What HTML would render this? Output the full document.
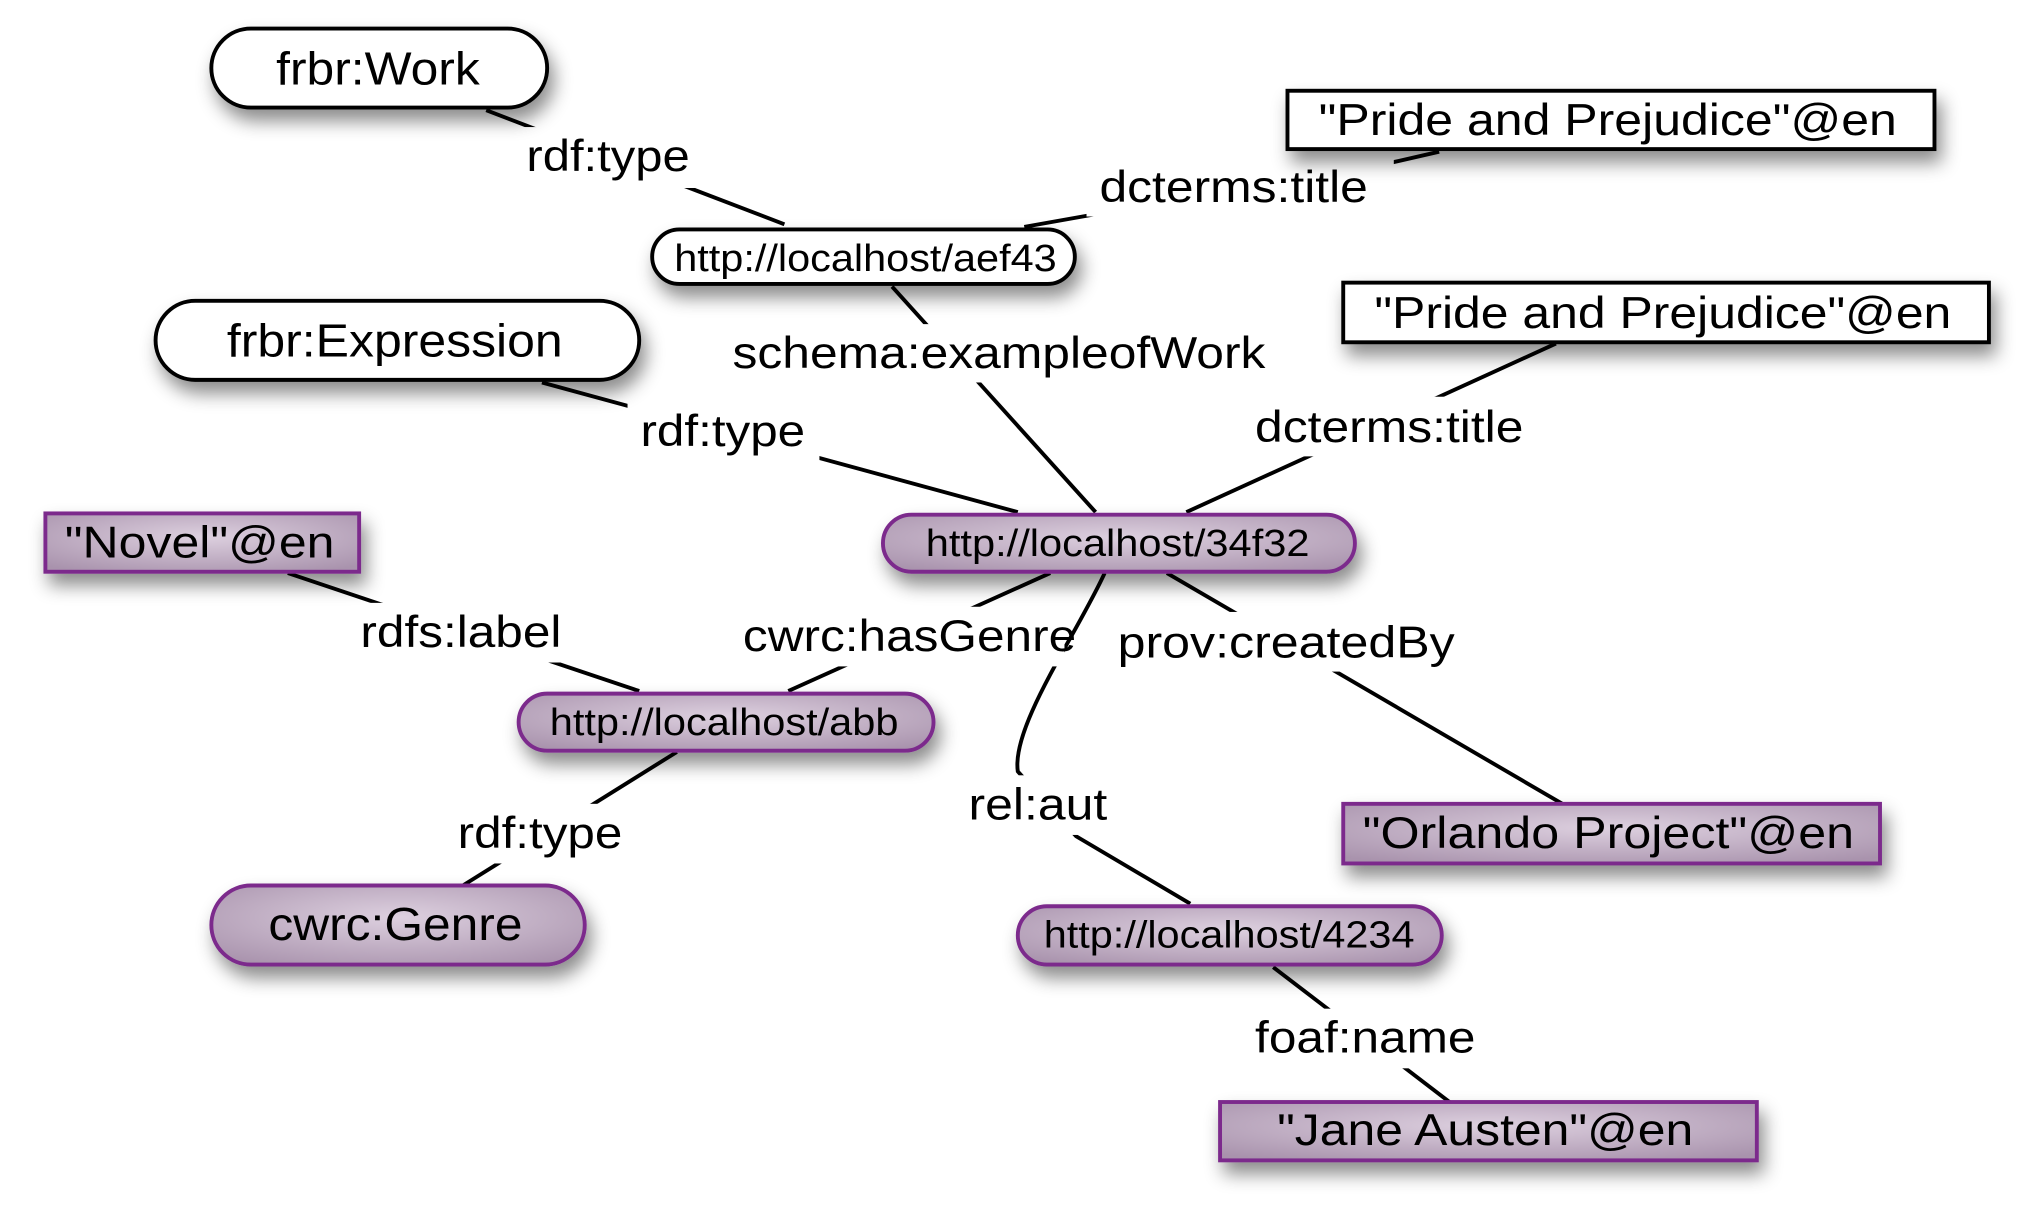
<!DOCTYPE html>
<html><head><meta charset="utf-8"><style>html,body{margin:0;padding:0;background:#fff}svg{display:block}</style></head>
<body>
<svg width="2033" height="1220" viewBox="0 0 1568 941" preserveAspectRatio="none" xmlns="http://www.w3.org/2000/svg" font-family="Liberation Sans, sans-serif">
<defs>
<filter id="sh" x="-20%" y="-40%" width="140%" height="200%"><feDropShadow dx="4" dy="9" stdDeviation="7" flood-color="#000" flood-opacity="0.45"/></filter>
<radialGradient id="pg" cx="50%" cy="40%" r="70%"><stop offset="0" stop-color="#ddd0df"/><stop offset="1" stop-color="#a993ad"/></radialGradient>
</defs>
<g stroke="#000" stroke-width="3" fill="none">
<line x1="375" y1="85" x2="605" y2="173"/>
<polyline points="790,175 835,167 1075,125 1110,117"/>
<line x1="688" y1="221" x2="845" y2="395"/>
<line x1="418" y1="295" x2="785" y2="395"/>
<line x1="1200" y1="265" x2="915" y2="395"/>
<line x1="222" y1="442" x2="493" y2="533"/>
<line x1="810" y1="442" x2="608" y2="533"/>
<line x1="900" y1="442" x2="1205" y2="620"/>
<path d="M852,442 C830,490 780,560 785,595 L830,645 L918,697"/>
<line x1="522" y1="580" x2="357" y2="683"/>
<line x1="982" y1="746" x2="1118" y2="850"/>
</g>
<g fill="#fff">
<rect x="390" y="98" width="150" height="47"/>
<rect x="838" y="122" width="237" height="45"/>
<rect x="555" y="250" width="432" height="45"/>
<rect x="484" y="310" width="148" height="46"/>
<rect x="958" y="306" width="228" height="46"/>
<rect x="268" y="465" width="175" height="46"/>
<rect x="563" y="468" width="258" height="46"/>
<rect x="852" y="472" width="280" height="46"/>
<rect x="737" y="598" width="127" height="46"/>
<rect x="343" y="620" width="147" height="46"/>
<rect x="958" y="778" width="190" height="46"/>
</g>
<g filter="url(#sh)" stroke-width="3">
<rect x="163" y="22" width="259" height="61" rx="30.5" fill="#fff" stroke="#000"/>
<rect x="503" y="177" width="326" height="42" rx="21" fill="#fff" stroke="#000"/>
<rect x="120" y="232" width="373" height="61" rx="30.5" fill="#fff" stroke="#000"/>
<rect x="993" y="70" width="499" height="45" fill="#fff" stroke="#000"/>
<rect x="1036" y="218" width="498" height="46" fill="#fff" stroke="#000"/>
<rect x="681" y="397" width="364" height="44" rx="22" fill="url(#pg)" stroke="#7b2a8c"/>
<rect x="35" y="396" width="242" height="45" fill="url(#pg)" stroke="#7b2a8c"/>
<rect x="400" y="535" width="320" height="44" rx="22" fill="url(#pg)" stroke="#7b2a8c"/>
<rect x="1036" y="620" width="414" height="46" fill="url(#pg)" stroke="#7b2a8c"/>
<rect x="163" y="683" width="288" height="61" rx="30.5" fill="url(#pg)" stroke="#7b2a8c"/>
<rect x="785" y="699" width="327" height="45" rx="22.5" fill="url(#pg)" stroke="#7b2a8c"/>
<rect x="941" y="850" width="414" height="45" fill="url(#pg)" stroke="#7b2a8c"/>
</g>
<g fill="#000" font-size="36" lengthAdjust="spacingAndGlyphs">
<text x="213" y="65" textLength="157" lengthAdjust="spacingAndGlyphs">frbr:Work</text>
<text x="175" y="275" textLength="259" lengthAdjust="spacingAndGlyphs">frbr:Expression</text>
<text x="207" y="725" textLength="196" lengthAdjust="spacingAndGlyphs">cwrc:Genre</text>
</g>
<g fill="#000" font-size="29">
<text x="520" y="209" textLength="295" lengthAdjust="spacingAndGlyphs">http://localhost/aef43</text>
<text x="714" y="429" textLength="296" lengthAdjust="spacingAndGlyphs">http://localhost/34f32</text>
<text x="424" y="567" textLength="269" lengthAdjust="spacingAndGlyphs">http://localhost/abb</text>
<text x="805" y="731" textLength="286" lengthAdjust="spacingAndGlyphs">http://localhost/4234</text>
</g>
<g fill="#000" font-size="34">
<text x="1017" y="104" textLength="446" lengthAdjust="spacingAndGlyphs">"Pride and Prejudice"@en</text>
<text x="1060" y="253" textLength="445" lengthAdjust="spacingAndGlyphs">"Pride and Prejudice"@en</text>
<text x="50" y="430" textLength="208" lengthAdjust="spacingAndGlyphs">"Novel"@en</text>
<text x="1051" y="654" textLength="379" lengthAdjust="spacingAndGlyphs">"Orlando Project"@en</text>
<text x="985" y="883" textLength="321" lengthAdjust="spacingAndGlyphs">"Jane Austen"@en</text>
<text x="406" y="132" textLength="126" lengthAdjust="spacingAndGlyphs">rdf:type</text>
<text x="848" y="156" textLength="207" lengthAdjust="spacingAndGlyphs">dcterms:title</text>
<text x="565" y="284" textLength="411" lengthAdjust="spacingAndGlyphs">schema:exampleofWork</text>
<text x="494" y="344" textLength="127" lengthAdjust="spacingAndGlyphs">rdf:type</text>
<text x="968" y="341" textLength="207" lengthAdjust="spacingAndGlyphs">dcterms:title</text>
<text x="278" y="499" textLength="155" lengthAdjust="spacingAndGlyphs">rdfs:label</text>
<text x="573" y="502" textLength="257" lengthAdjust="spacingAndGlyphs">cwrc:hasGenre</text>
<text x="862" y="507" textLength="260" lengthAdjust="spacingAndGlyphs">prov:createdBy</text>
<text x="747" y="632" textLength="107" lengthAdjust="spacingAndGlyphs">rel:aut</text>
<text x="353" y="654" textLength="127" lengthAdjust="spacingAndGlyphs">rdf:type</text>
<text x="968" y="812" textLength="170" lengthAdjust="spacingAndGlyphs">foaf:name</text>
</g>
</svg>
</body></html>
